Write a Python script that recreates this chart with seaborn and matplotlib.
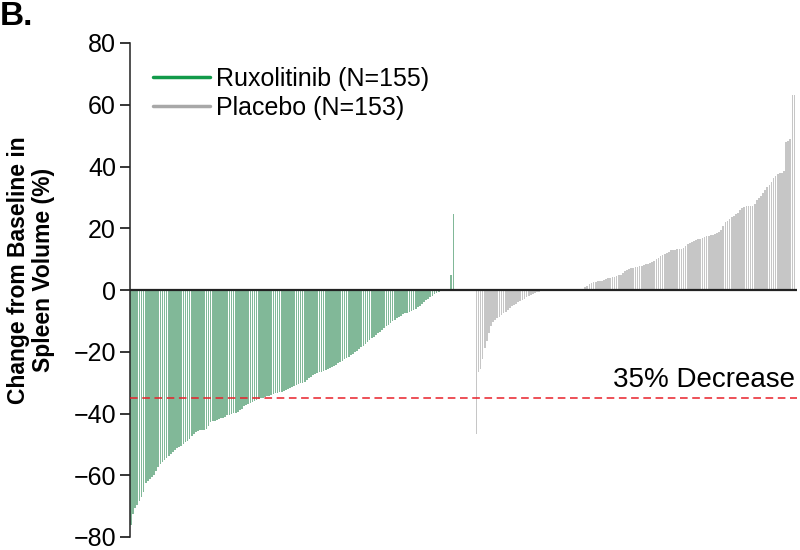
import matplotlib
matplotlib.use("Agg")
import matplotlib.pyplot as plt
from matplotlib.lines import Line2D
import numpy as np
import pandas as pd
import seaborn as sns

# Waterfall values (% change in spleen volume, sorted)
rux_change = [-76, -72.5, -70.5, -69.5, -68.3, -67, -65.5, -62.5, -61.8, -61.2,
              -60.7, -59.8, -58.7, -57.2, -56.3, -55.6, -55, -54.4, -53.7, -53.1,
              -52.5, -51.7, -51.1, -50.7, -50.4, -49.8, -49.3, -48.8, -48.1, -47.4,
              -46.6, -46, -45.7, -45.4, -45.3, -45.2, -45.1, -44, -42.7, -42.5,
              -42.3, -42.1, -41.9, -41.6, -41.3, -41, -40.6, -40.4, -40.2, -39.9,
              -39.7, -39.5, -39, -38.4, -37.7, -37.1, -36.8, -36.5, -36.2, -35.8,
              -35.6, -35.3, -35.1, -34.9, -34.6, -34.4, -34.2, -33.9, -33.7, -33.5,
              -33.3, -33.1, -32.9, -32.6, -32.4, -32, -31.7, -31.4, -31, -30.8,
              -30.5, -30.2, -30, -29.7, -29.2, -28.6, -28.1, -27.6, -27.1, -26.8,
              -26.6, -26.4, -26.2, -26, -25.6, -25.2, -24.9, -24.6, -24.3, -23.8,
              -23.3, -22.9, -22.5, -22, -21.6, -21.1, -20.6, -20.1, -19.7, -19.2,
              -18.6, -18.1, -17.5, -17, -16.3, -15.6, -15.1, -14.6, -14, -13.5,
              -13, -12.4, -11.8, -11.2, -10.6, -10.1, -9.6, -9.2, -8.7, -8.3,
              -7.8, -7.5, -7.3, -7, -6.8, -6.5, -6, -5.6, -5.1, -4.6,
              -4, -3.3, -2.8, -2.3, -1.9, -1.3, -0.9, -0.5, -0.2, 0,
              0, 0, 0, 4.8, 24.7]

placebo_change = [-46.5, -26.5, -25.5, -22.3, -18.8, -16.5, -14, -11.5, -10.3, -9.6,
                  -9.1, -8.6, -8, -7.6, -7, -6.4, -5.8, -5.3, -4.8, -4.4,
                  -4, -3.6, -3.2, -2.8, -2.4, -2, -1.7, -1.3, -1, -0.8,
                  -0.5, -0.3, -0.2, 0, 0, 0, 0, 0, 0, 0,
                  0, 0, 0, 0, 0, 0, 0, 0, 0, 0,
                  0, 0, 0.9, 1.4, 1.9, 2.2, 2.5, 2.7, 2.8, 2.9,
                  2.9, 3.2, 3.6, 3.9, 4, 4.1, 4.3, 4.5, 4.7, 4.9,
                  5.5, 6.1, 6.4, 6.7, 7, 7.2, 7.4, 7.6, 7.8, 7.9,
                  8.1, 8.3, 8.5, 8.8, 9.2, 9.5, 9.9, 10.5, 11, 11.4,
                  11.8, 12.1, 12.4, 12.8, 13, 13.1, 13.2, 13.3, 13.4, 13.6,
                  14.2, 14.9, 15.3, 15.5, 15.8, 16.1, 16.4, 16.6, 16.9, 17.1,
                  17.4, 17.6, 17.8, 17.9, 18.1, 18.5, 18.9, 19.3, 20.8, 22,
                  22.5, 23, 23.5, 24, 24.5, 25, 26, 26.6, 27, 27.2,
                  27.2, 27.2, 27.3, 28, 29, 29.8, 30.4, 31.3, 32.3, 33.2,
                  34.1, 35, 36.2, 36.9, 37.5, 37.8, 38, 38.6, 48, 48.3,
                  48.8, 63, 63.3]

arms = ["Ruxolitinib", "Placebo"]
arm_labels = ["Ruxolitinib (N=155)", "Placebo (N=153)"]
threshold = -35
threshold_label = "35% Decrease"
y_ticks = [-80, -60, -40, -20, 0, 20, 40, 60, 80]

bar_colors = {"Ruxolitinib": "#78c197", "Placebo": "#c6c6c6"}
legend_colors = {"Ruxolitinib": "#129a4a", "Placebo": "#a8a8a8"}

# slot positions: green group, a small gap, then gray group
gap = 10
rux_pos = np.arange(len(rux_change))
pla_pos = len(rux_change) + gap + np.arange(len(placebo_change))

df = pd.DataFrame({
    "pos": np.concatenate([rux_pos, pla_pos]),
    "change": rux_change + placebo_change,
    "arm": [arms[0]] * len(rux_change) + [arms[1]] * len(placebo_change),
})

sns.set_style("ticks")
plt.rcParams["font.family"] = ["Liberation Sans", "DejaVu Sans"]
plt.rcParams["text.color"] = "black"
plt.rcParams["axes.labelcolor"] = "black"
plt.rcParams["ytick.color"] = "black"

fig = plt.figure(figsize=(8, 5.5), dpi=100)
ax = fig.add_axes([130 / 800, 13 / 550, 667 / 800, 494 / 550])

sns.barplot(data=df, x="pos", y="change", hue="arm", native_scale=True,
            palette=bar_colors, width=0.8, dodge=False, errorbar=None,
            linewidth=0, legend=False, ax=ax)

ax.axhline(0, color="#222222", lw=1.6, zorder=3)
ax.axhline(threshold, color="#e8202a", lw=1.1, ls=(0, (5, 3)), zorder=3)
ax.text(0.997, -29, threshold_label, transform=ax.get_yaxis_transform(),
        ha="right", va="center", fontsize=20)

ax.set_xlim(-0.5, pla_pos[-1] + 1.2)
ax.set_ylim(-80, 80)
ax.set_yticks(y_ticks)
ax.tick_params(axis="y", labelsize=18, length=7, width=1.1, pad=3)
ax.set_xticks([])
ax.set_xlabel("")
ax.set_ylabel("Change from Baseline in\nSpleen Volume (%)", fontsize=16.5,
              fontweight="bold", linespacing=1.08)
ax.yaxis.set_label_coords(-0.113, 0.54)

sns.despine(ax=ax, bottom=True)
ax.spines["left"].set_bounds(-80, 80)
ax.spines["left"].set_linewidth(1.1)
ax.spines["left"].set_color("#222222")

handles = [Line2D([0], [0], color=legend_colors[a], lw=2.5) for a in arms]
ax.legend(handles, arm_labels, loc="upper left", bbox_to_anchor=(0.034, 0.952),
          frameon=False, fontsize=18, handlelength=2.3, handletextpad=0.25,
          labelspacing=0.2, borderpad=0, borderaxespad=0)

fig.text(0.0, 0.998, "B.", fontsize=24, fontweight="bold", ha="left", va="top")

fig.savefig("out.png", dpi=100)
